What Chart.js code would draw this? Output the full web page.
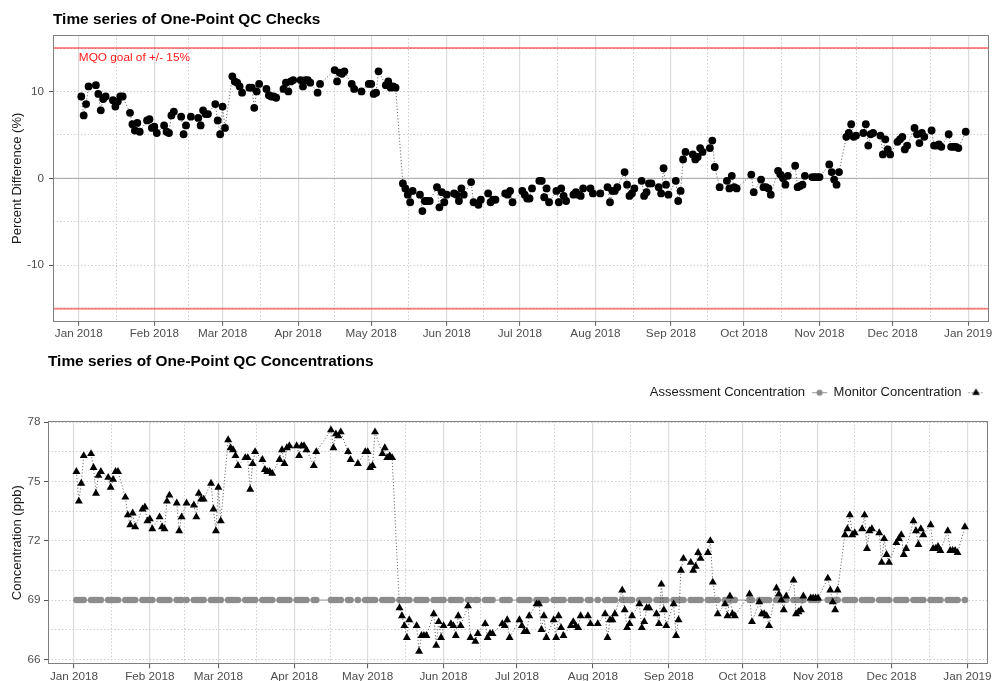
<!DOCTYPE html>
<html>
<head>
<meta charset="utf-8">
<title>One-Point QC Checks 2018</title>
<script src="https://cdn.jsdelivr.net/npm/chart.js@4.4.1/dist/chart.umd.min.js"></script>
<style>
  html, body { margin: 0; padding: 0; background: #ffffff; }
  #wrap { position: relative; width: 993px; height: 681px; overflow: hidden; background: #ffffff; }
  canvas { position: absolute; left: 0; }
  #qcChecks { top: 0; }
  #qcConc { top: 345px; }
</style>
</head>
<body>
<div id="wrap">
  <canvas id="qcChecks" width="993" height="345"></canvas>
  <canvas id="qcConc" width="993" height="336"></canvas>
</div>
<script>
// ---------------- data ----------------
// Dates of the one-point QC checks (2018)
const checkDates = [
  '2018-01-02','2018-01-03','2018-01-04','2018-01-05',
  '2018-01-08','2018-01-09','2018-01-10','2018-01-11','2018-01-12',
  '2018-01-15','2018-01-16','2018-01-17','2018-01-18','2018-01-19',
  '2018-01-22','2018-01-23','2018-01-24','2018-01-25','2018-01-26',
  '2018-01-29','2018-01-30','2018-01-31','2018-02-01','2018-02-02',
  '2018-02-05','2018-02-06','2018-02-07','2018-02-08','2018-02-09',
  '2018-02-12','2018-02-13','2018-02-14','2018-02-16',
  '2018-02-19','2018-02-20','2018-02-21','2018-02-22','2018-02-23',
  '2018-02-26','2018-02-27','2018-02-28','2018-03-01','2018-03-02',
  '2018-03-05','2018-03-06','2018-03-07','2018-03-08','2018-03-09',
  '2018-03-12','2018-03-13','2018-03-14','2018-03-15','2018-03-16',
  '2018-03-19','2018-03-20','2018-03-21','2018-03-22','2018-03-23',
  '2018-03-26','2018-03-27','2018-03-28','2018-03-29','2018-03-30',
  '2018-04-02','2018-04-03','2018-04-04','2018-04-05','2018-04-06',
  '2018-04-09','2018-04-10',
  '2018-04-16','2018-04-17','2018-04-18','2018-04-19','2018-04-20',
  '2018-04-23','2018-04-24','2018-04-27',
  '2018-04-30','2018-05-01','2018-05-02','2018-05-03','2018-05-04',
  '2018-05-07','2018-05-08','2018-05-09','2018-05-10','2018-05-11',
  '2018-05-14','2018-05-15','2018-05-16','2018-05-17','2018-05-18',
  '2018-05-21','2018-05-22','2018-05-23','2018-05-24','2018-05-25',
  '2018-05-28','2018-05-29','2018-05-30','2018-05-31','2018-06-01',
  '2018-06-04','2018-06-05','2018-06-06','2018-06-07','2018-06-08',
  '2018-06-11','2018-06-12','2018-06-14','2018-06-15',
  '2018-06-18','2018-06-19','2018-06-20','2018-06-21',
  '2018-06-25','2018-06-26','2018-06-27','2018-06-28',
  '2018-07-02','2018-07-03','2018-07-04','2018-07-05','2018-07-06',
  '2018-07-09','2018-07-10','2018-07-11','2018-07-12','2018-07-13',
  '2018-07-16','2018-07-17','2018-07-18','2018-07-19','2018-07-20',
  '2018-07-23','2018-07-24','2018-07-25','2018-07-26','2018-07-27',
  '2018-07-30','2018-07-31','2018-08-03',
  '2018-08-06','2018-08-07','2018-08-08','2018-08-09','2018-08-10',
  '2018-08-13','2018-08-14','2018-08-15','2018-08-16','2018-08-17',
  '2018-08-20','2018-08-21','2018-08-22','2018-08-23','2018-08-24',
  '2018-08-27','2018-08-28','2018-08-29','2018-08-30','2018-08-31',
  '2018-09-03','2018-09-04','2018-09-05','2018-09-06','2018-09-07',
  '2018-09-10','2018-09-11','2018-09-12','2018-09-13','2018-09-14',
  '2018-09-17','2018-09-18','2018-09-19','2018-09-21',
  '2018-09-24','2018-09-25','2018-09-26','2018-09-27','2018-09-28',
  '2018-10-04','2018-10-05',
  '2018-10-08','2018-10-09','2018-10-10','2018-10-11','2018-10-12',
  '2018-10-15','2018-10-16','2018-10-17','2018-10-18','2018-10-19',
  '2018-10-22','2018-10-23','2018-10-24','2018-10-25','2018-10-26',
  '2018-10-29','2018-10-30','2018-10-31','2018-11-01',
  '2018-11-05','2018-11-06','2018-11-07','2018-11-08','2018-11-09',
  '2018-11-12','2018-11-13','2018-11-14','2018-11-15','2018-11-16',
  '2018-11-19','2018-11-20','2018-11-21','2018-11-22','2018-11-23',
  '2018-11-26','2018-11-27','2018-11-28','2018-11-29','2018-11-30',
  '2018-12-03','2018-12-04','2018-12-05','2018-12-06','2018-12-07',
  '2018-12-10','2018-12-11','2018-12-12','2018-12-13','2018-12-14',
  '2018-12-17','2018-12-18','2018-12-19','2018-12-20','2018-12-21',
  '2018-12-24','2018-12-25','2018-12-26','2018-12-27','2018-12-28',
  '2018-12-31'
];

// Concentration reported by the monitor at each check (ppb)
const monitorPpb = [
  75.5, 74.0, 74.9, 76.3,
  76.4, 75.7, 74.4, 75.3, 75.5,
  75.2, 74.7, 75.1, 75.5, 75.5,
  74.2, 73.3, 72.8, 73.4, 72.7,
  73.6, 73.7, 73.0, 73.1, 72.6,
  73.2, 72.7, 72.6, 74.0, 74.3,
  73.9, 72.5, 73.2, 73.9,
  73.8, 73.2, 74.4, 74.1, 74.1,
  74.9, 73.6, 72.5, 74.7, 73.0,
  77.1, 76.7, 76.6, 76.3, 75.8,
  76.2, 76.2, 74.6, 75.9, 76.5,
  76.1, 75.6, 75.5, 75.5, 75.4,
  76.1, 76.6, 75.9, 76.7, 76.8,
  76.8, 76.3, 76.8, 76.8, 76.6,
  75.8, 76.5,
  77.6, 76.7, 77.4, 77.3, 77.5,
  76.5, 76.1, 75.9,
  76.5, 76.5, 75.7, 75.8, 77.5,
  76.4, 76.7, 76.2, 76.3, 76.2,
  68.6, 68.2, 67.7, 67.1, 68.0,
  67.7, 66.4, 67.2, 67.2, 67.2,
  68.3, 66.7, 67.9, 67.1, 67.7,
  67.8, 67.7, 67.2, 68.2, 67.7,
  68.7, 67.1, 66.9, 67.3,
  67.8, 67.1, 67.3, 67.3,
  67.8, 67.7, 68.0, 67.1,
  68.0, 67.7, 67.4, 67.4, 68.2,
  68.8, 68.8, 67.5, 68.2, 67.1,
  68.0, 67.1, 68.2, 67.6, 67.2,
  67.7, 67.9, 67.7, 67.6, 68.2,
  68.2, 67.8, 67.8,
  68.3, 67.1, 68.0, 68.0, 68.3,
  69.5, 68.5, 67.6, 67.8, 68.2,
  68.8, 67.6, 67.9, 68.6, 68.6,
  68.3, 67.8, 69.8, 68.5, 67.7,
  68.8, 67.2, 68.0, 70.5, 71.1,
  70.9, 70.5, 70.7, 71.4, 71.1,
  71.4, 72.0, 69.9, 68.3,
  68.8, 68.2, 69.2, 68.3, 68.2,
  69.3, 67.9,
  68.9, 68.3, 68.3, 68.2, 67.7,
  69.6, 69.3, 69.0, 68.5, 69.2,
  70.0, 68.3, 68.4, 68.5, 69.2,
  69.1, 69.1, 69.1, 69.1,
  70.1, 69.5, 68.9, 68.5, 69.5,
  72.3, 72.6, 73.3, 72.3, 72.4,
  72.6, 73.3, 71.6, 72.5, 72.6,
  72.4, 70.9, 72.1, 71.3, 70.9,
  71.9, 72.1, 72.3, 71.3, 71.6,
  73.0, 72.5, 71.8, 72.6, 72.3,
  72.8, 71.6, 71.6, 71.7, 71.5,
  72.5, 71.5, 71.5, 71.5, 71.4,
  72.7
];

// Assessment (audit) concentration delivered at every check (ppb)
const assessmentPpb = 69;

// Measurement quality objective, +/- percent
const mqoLimitPct = 15;

// Axis breaks
const monthTickDates = ['2018-01-01','2018-02-01','2018-03-01','2018-04-01','2018-05-01','2018-06-01',
  '2018-07-01','2018-08-01','2018-09-01','2018-10-01','2018-11-01','2018-12-01','2019-01-01'];
const monthTickLabels = ['Jan 2018','Feb 2018','Mar 2018','Apr 2018','May 2018','Jun 2018',
  'Jul 2018','Aug 2018','Sep 2018','Oct 2018','Nov 2018','Dec 2018','Jan 2019'];
const pctTicks = [-10, 0, 10];
const pctMinorTicks = [-15, -5, 5, 15];
const concTicks = [66, 69, 72, 75, 78];
const concMinorTicks = [67.5, 70.5, 73.5, 76.5];

// ---------------- derived values ----------------
const DAY = 86400000;
const yearStart = Date.parse('2018-01-01');
const X_MIN = yearStart - 10.6 * DAY;
const X_MAX = yearStart + 373.6 * DAY;

const n = Math.min(checkDates.length, monitorPpb.length);
const checkTimes = checkDates.slice(0, n).map(d => Date.parse(d));
const monthTimes = monthTickDates.map(d => Date.parse(d));
const monthMidTimes = monthTimes.slice(1).map((t, i) => (t + monthTimes[i]) / 2);

// percent difference of the monitor response from the assessment value
const pctDiff = monitorPpb.slice(0, n).map(v => (v - assessmentPpb) / assessmentPpb * 100);

const monitorPoints = checkTimes.map((t, i) => ({ x: t, y: monitorPpb[i] }));
const assessmentPoints = checkTimes.map(t => ({ x: t, y: assessmentPpb }));
const pctPoints = checkTimes.map((t, i) => ({ x: t, y: pctDiff[i] }));

// ---------------- styling helpers ----------------
const FONT = "'Liberation Sans', Arial, Helvetica, sans-serif";
Chart.defaults.font.family = FONT;

const TICK_TEXT = '#4d4d4d';
const GRID_DOT = '#cdcdcd';
const GRID_MAJOR = '#dcdcdc';

const panelBorder = {
  id: 'panelBorder',
  afterDatasetsDraw(chart) {
    const { ctx, chartArea: a } = chart;
    ctx.save();
    ctx.strokeStyle = '#7f7f7f';
    ctx.lineWidth = 1;
    ctx.strokeRect(Math.round(a.left) + 0.5, Math.round(a.top) + 0.5,
      Math.round(a.width) - 1, Math.round(a.height) - 1);
    ctx.restore();
  }
};

const noteText = {
  id: 'noteText',
  afterDatasetsDraw(chart, args, o) {
    if (!o || !o.text) return;
    const { ctx, scales } = chart;
    ctx.save();
    ctx.font = `${o.size}px ${FONT}`;
    ctx.fillStyle = o.color;
    ctx.textAlign = 'left';
    ctx.textBaseline = 'middle';
    ctx.fillText(o.text, scales.x.getPixelForValue(o.x), scales.y.getPixelForValue(o.y));
    ctx.restore();
  }
};

function monthAxis(height, labelPad) {
  return {
    type: 'linear', position: 'bottom', min: X_MIN, max: X_MAX,
    afterBuildTicks: s => { s.ticks = monthTimes.map(v => ({ value: v })); },
    afterFit: s => { s.height = height; s.paddingLeft = 0; s.paddingRight = 0; },
    ticks: {
      autoSkip: false, maxRotation: 0, minRotation: 0, padding: labelPad,
      color: TICK_TEXT, font: { family: FONT, size: 11.7 },
      callback: v => { const i = monthTimes.indexOf(v); return i >= 0 ? monthTickLabels[i] : ''; }
    },
    grid: { color: GRID_MAJOR, lineWidth: 1.2, drawTicks: true, tickLength: 4, tickColor: '#555', tickWidth: 1 },
    border: { display: false }
  };
}

function monthMinorAxis() {
  return {
    type: 'linear', position: 'bottom', min: X_MIN, max: X_MAX,
    afterBuildTicks: s => { s.ticks = monthMidTimes.map(v => ({ value: v })); },
    afterFit: s => { s.height = 0; s.paddingLeft = 0; s.paddingRight = 0; },
    ticks: { display: false },
    grid: { color: GRID_DOT, lineWidth: 1, drawTicks: false },
    border: { display: false, dash: [1.5, 2] }
  };
}

function valueAxis(min, max, major, minor, width, labelPad, title) {
  const all = major.concat(minor).sort((a, b) => a - b);
  return {
    type: 'linear', position: 'left', min, max,
    afterBuildTicks: s => { s.ticks = all.map(v => ({ value: v })); },
    afterFit: s => { s.width = width; s.paddingTop = 0; s.paddingBottom = 0; },
    ticks: {
      autoSkip: false, padding: labelPad, color: TICK_TEXT, font: { family: FONT, size: 11.7 },
      callback: v => (major.includes(v) ? String(v) : '')
    },
    grid: {
      color: GRID_DOT, lineWidth: 1, drawTicks: true, tickLength: 4, tickWidth: 1,
      tickBorderDash: [],
      tickColor: c => (c.tick && major.includes(c.tick.value) ? '#555' : 'rgba(0,0,0,0)')
    },
    border: { display: false, dash: [1.5, 2] },
    title: {
      display: true, text: title, color: '#1a1a1a',
      font: { family: FONT, size: 13, lineHeight: 1.2 }, padding: { top: 9.2, bottom: 0 }
    }
  };
}

function hline(label, y, color, width, order) {
  return {
    label, data: [{ x: X_MIN, y }, { x: X_MAX, y }],
    borderColor: color, borderWidth: width, pointRadius: 0, pointHoverRadius: 0,
    fill: false, tension: 0, order, xAxisID: 'x', yAxisID: 'y'
  };
}

// ---------------- percent difference panel ----------------
new Chart(document.getElementById('qcChecks'), {
  type: 'line',
  data: {
    datasets: [
      {
        label: 'Percent Difference', data: pctPoints,
        borderColor: '#4a4a4a', borderWidth: 0.8, borderDash: [1.2, 2],
        pointRadius: 3.9, pointHoverRadius: 3.9, pointBackgroundColor: '#000', pointBorderWidth: 0,
        fill: false, tension: 0, order: 0, xAxisID: 'x', yAxisID: 'y'
      },
      hline('MQO upper', mqoLimitPct, 'rgba(255,0,0,0.45)', 2, 3),
      hline('MQO lower', -mqoLimitPct, 'rgba(255,0,0,0.45)', 2, 3),
      hline('Zero', 0, '#a3a3a3', 1, 2)
    ]
  },
  options: {
    responsive: false, animation: false, devicePixelRatio: 1, events: [],
    layout: { padding: { left: 0, right: 3, top: 0, bottom: 0 } },
    scales: {
      x: monthAxis(23.3, 1),
      xMinor: monthMinorAxis(),
      y: valueAxis(-16.5, 16.5, pctTicks, pctMinorTicks, 53, 5, 'Percent Difference (%)')
    },
    plugins: {
      legend: { display: false },
      tooltip: { enabled: false },
      title: {
        display: true, text: 'Time series of One-Point QC Checks', align: 'start', fullSize: false,
        color: '#000', font: { family: FONT, size: 15.4, weight: 'bold', lineHeight: 1.2 },
        padding: { top: 10.75, bottom: 5.75 }
      },
      noteText: { text: 'MQO goal of +/- 15%', x: yearStart, y: 13.9, size: 11.8, color: '#ff1a1a' }
    }
  },
  plugins: [panelBorder, noteText]
});

// ---------------- concentration panel ----------------
function legendKey(draw) {
  const c = document.createElement('canvas');
  c.width = 17; c.height = 17;
  draw(c.getContext('2d'));
  return c;
}
const assessmentKey = legendKey(g => {
  g.strokeStyle = '#999'; g.lineWidth = 1;
  g.beginPath(); g.moveTo(1, 8.5); g.lineTo(16, 8.5); g.stroke();
  g.fillStyle = '#8c8c8c';
  g.beginPath(); g.arc(8.5, 8.5, 3.1, 0, Math.PI * 2); g.fill();
});
const monitorKey = legendKey(g => {
  g.strokeStyle = '#4a4a4a'; g.lineWidth = 0.8; g.setLineDash([1.2, 2]);
  g.beginPath(); g.moveTo(1, 8.5); g.lineTo(16, 8.5); g.stroke();
  g.setLineDash([]);
  g.fillStyle = '#000';
  g.beginPath(); g.moveTo(8.5, 4.2); g.lineTo(12.3, 10.7); g.lineTo(4.7, 10.7); g.closePath(); g.fill();
});

new Chart(document.getElementById('qcConc'), {
  type: 'line',
  data: {
    datasets: [
      {
        label: 'Assessment Concentration', data: assessmentPoints,
        borderColor: '#9a9a9a', borderWidth: 1,
        pointStyle: 'circle', pointRadius: 3.3, pointHoverRadius: 3.3,
        pointBackgroundColor: '#8c8c8c', pointBorderWidth: 0,
        fill: false, tension: 0, order: 2, xAxisID: 'x', yAxisID: 'y'
      },
      {
        label: 'Monitor Concentration', data: monitorPoints,
        borderColor: '#4a4a4a', borderWidth: 0.8, borderDash: [1.2, 2],
        pointStyle: 'triangle', pointRadius: 4.6, pointHoverRadius: 4.6,
        pointBackgroundColor: '#000', pointBorderWidth: 0,
        fill: false, tension: 0, order: 1, xAxisID: 'x', yAxisID: 'y'
      }
    ]
  },
  options: {
    responsive: false, animation: false, devicePixelRatio: 1, events: [],
    layout: { padding: { left: 0, right: 3, top: 0, bottom: 0 } },
    scales: {
      x: monthAxis(16.7, 1),
      xMinor: monthMinorAxis(),
      legendGap: {
        type: 'linear', position: 'top', min: 0, max: 1, display: true,
        ticks: { display: false }, grid: { display: false, drawTicks: false }, border: { display: false },
        afterFit: s => { s.height = 12; s.paddingLeft = 0; s.paddingRight = 0; }
      },
      y: valueAxis(65.75, 78.05, concTicks, concMinorTicks, 48, 3.5, 'Concentration (ppb)')
    },
    plugins: {
      tooltip: { enabled: false },
      title: {
        display: true, text: 'Time series of One-Point QC Concentrations', align: 'start', fullSize: false,
        color: '#000', font: { family: FONT, size: 15.4, weight: 'bold', lineHeight: 1.2 },
        padding: { top: 7.75, bottom: 8.95 }
      },
      legend: {
        display: true, position: 'top', align: 'start', rtl: true, textDirection: 'ltr',
        labels: {
          usePointStyle: true, pointStyleWidth: 16, padding: 6,
          color: '#1a1a1a', font: { family: FONT, size: 13 },
          generateLabels: chart => chart.data.datasets
            .map((ds, i) => ({ ds, i }))
            .sort((a, b) => a.ds.order - b.ds.order)
            .map(({ ds, i }) => ({
              text: ds.label, datasetIndex: i, hidden: false, lineWidth: 0,
              fillStyle: ds.pointBackgroundColor, strokeStyle: ds.pointBackgroundColor,
              fontColor: '#1a1a1a',
              pointStyle: i === 0 ? assessmentKey : monitorKey
            }))
        }
      }
    }
  },
  plugins: [panelBorder]
});
</script>
</body>
</html>
